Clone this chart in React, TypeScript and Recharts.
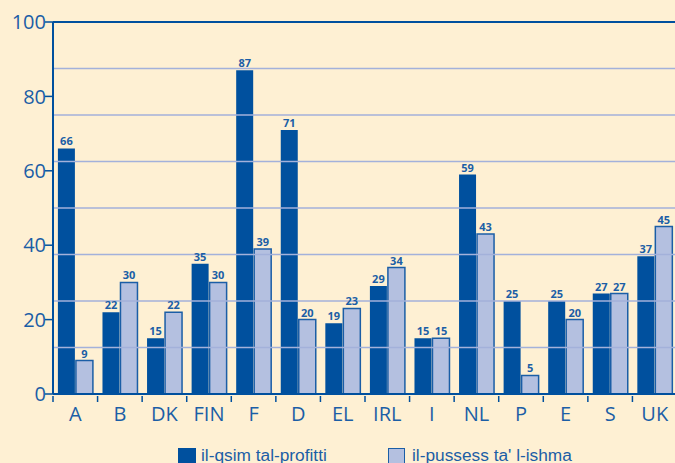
import React from 'react';
import { BarChart, Bar, XAxis, YAxis, ReferenceLine, LabelList, Legend } from 'recharts';

const categories = ['A', 'B', 'DK', 'FIN', 'F', 'D', 'EL', 'IRL', 'I', 'NL', 'P', 'E', 'S', 'UK'];
const profitShare = [66, 22, 15, 35, 87, 71, 19, 29, 15, 59, 25, 25, 27, 37];
const shareOwnership = [9, 30, 22, 30, 39, 20, 23, 34, 15, 43, 5, 20, 27, 45];
const yTicks = [0, 20, 40, 60, 80, 100];
const gridValues = [12.5, 25, 37.5, 50, 62.5, 75, 87.5];
const seriesNames = ['il-qsim tal-profitti', "il-pussess ta' l-ishma"];

const data = categories.map((c, i) => ({ name: c, a: profitShare[i], b: shareOwnership[i] }));

const BG = '#FEF0D3';
const DARK = '#00509E';
const LIGHT = '#B4C0E0';
const TEXT = '#1B5EA6';
const GRID = '#A3B1DA';
const FONT = '"Open Sans", "DejaVu Sans", sans-serif';
const LEGEND_FONT = '"Liberation Sans", Arial, sans-serif';

const W = 680;
const H = 463;
const M = { top: 22, right: 3, left: 8, bottom: 19 };
const Y_W = 45;
const HALF_BAND = (W - M.left - M.right - Y_W) / categories.length / 2;

const XTick = (props: any) => {
  const { x, y, payload } = props;
  return (
    <g>
      <line x1={x - HALF_BAND} x2={x - HALF_BAND} y1={y - 6} y2={y} stroke={DARK} strokeWidth={1.5} />
      <text x={x} y={y + 19} textAnchor="middle" fill={TEXT} fontSize={20} fontFamily={FONT}>
        {payload.value}
      </text>
    </g>
  );
};

const LegendContent = () => (
  <div style={{ position: 'relative', width: W, height: 20, fontFamily: LEGEND_FONT, fontSize: 17.3, color: TEXT }}>
    <div style={{ position: 'absolute', left: 178, top: 2, width: 18, height: 18, background: DARK }} />
    <div style={{ position: 'absolute', left: 201, top: -1, whiteSpace: 'nowrap' }}>{seriesNames[0]}</div>
    <div style={{ position: 'absolute', left: 388, top: 2, width: 15, height: 16, background: LIGHT, border: `1.5px solid ${TEXT}` }} />
    <div style={{ position: 'absolute', left: 412, top: -1, whiteSpace: 'nowrap' }}>{seriesNames[1]}</div>
  </div>
);

export default function App() {
  return (
    <div style={{ position: 'absolute', left: 0, top: 0, width: 675, height: 463, overflow: 'hidden', background: BG }}>
      <BarChart width={W} height={H} data={data} margin={M} barCategoryGap="11%" barGap={1}>
        <YAxis
          domain={[0, 100]}
          ticks={yTicks}
          width={Y_W}
          tickSize={8}
          tickMargin={-1}
          axisLine={{ stroke: DARK, strokeWidth: 2 }}
          tickLine={{ stroke: DARK, strokeWidth: 1.5 }}
          tick={{ fill: TEXT, fontSize: 20, fontFamily: FONT }}
          interval={0}
        />
        <XAxis
          dataKey="name"
          height={30}
          interval={0}
          axisLine={{ stroke: DARK, strokeWidth: 2 }}
          tickLine={false}
          tick={<XTick />}
        />
        <Legend verticalAlign="bottom" content={<LegendContent />} wrapperStyle={{ left: 0, bottom: -3, width: W, height: 20 }} />
        <Bar dataKey="a" name={seriesNames[0]} fill={DARK} isAnimationActive={false}>
          <LabelList dataKey="a" position="top" offset={3} fill={TEXT} fontSize={11} fontWeight="bold" fontFamily={FONT} />
        </Bar>
        <Bar dataKey="b" name={seriesNames[1]} fill={LIGHT} stroke={TEXT} strokeWidth={1.5} isAnimationActive={false}>
          <LabelList dataKey="b" position="top" offset={3} fill={TEXT} fontSize={11} fontWeight="bold" fontFamily={FONT} />
        </Bar>
        {gridValues.map((v) => (
          <ReferenceLine key={v} y={v} stroke={GRID} strokeWidth={1.5} />
        ))}
        <ReferenceLine y={100} stroke={DARK} strokeWidth={2} />
      </BarChart>
    </div>
  );
}
